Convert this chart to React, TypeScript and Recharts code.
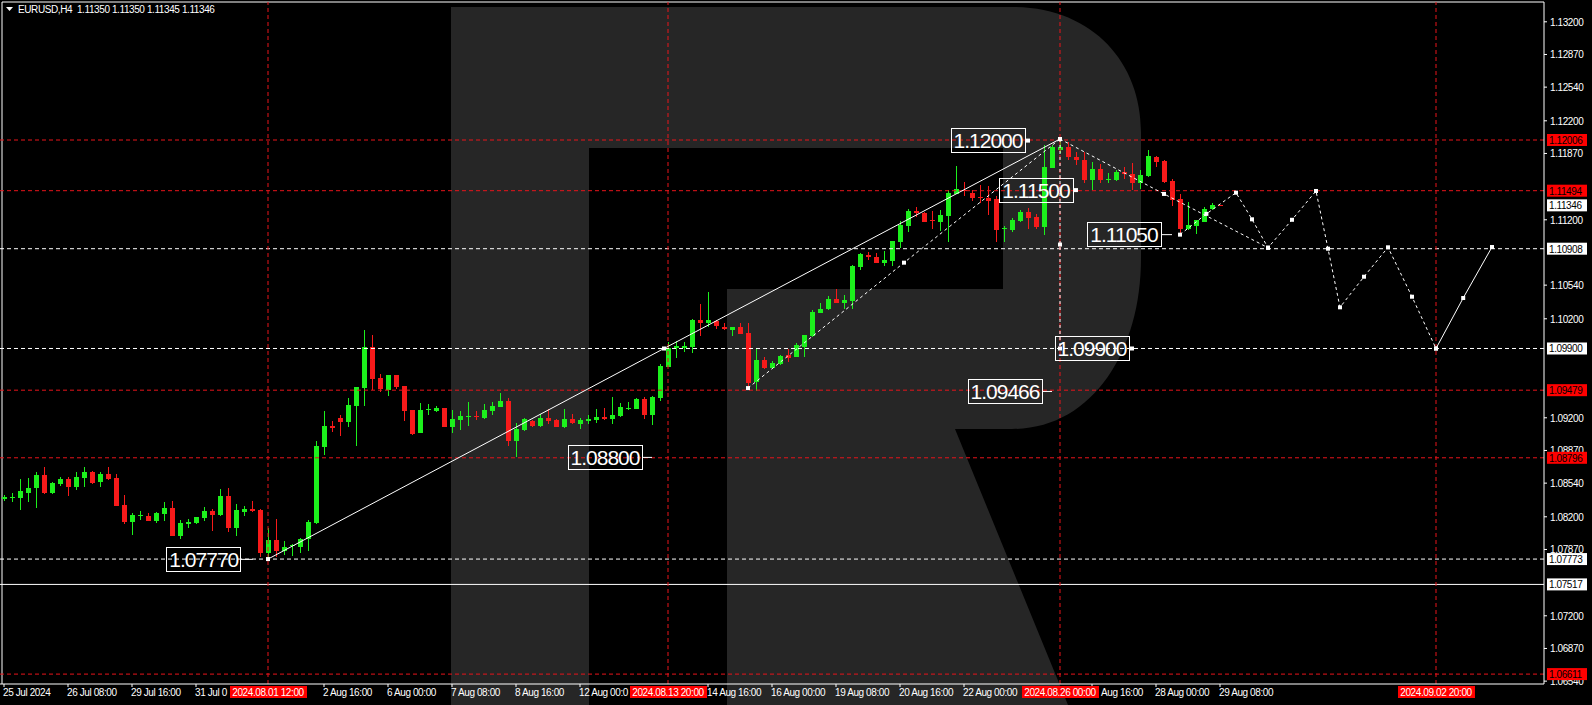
import { ComposedChart, Bar, XAxis, YAxis, Scatter, ReferenceLine, ReferenceDot } from 'recharts';

// EURUSD H4, 25 Jul 2024 .. 29 Aug 2024 08:00 (one entry per candle)
const OPEN = [
  1.0838, 1.0839, 1.0839, 1.0844, 1.08491, 1.08622, 1.0844, 1.08531, 1.08582, 1.08501,
  1.08595, 1.08652, 1.08554, 1.08632, 1.08592, 1.08319, 1.08147, 1.08205, 1.08208, 1.08157,
  1.08228, 1.08289, 1.08006, 1.08127, 1.08137, 1.08188, 1.08258, 1.08218, 1.0841, 1.08087,
  1.08248, 1.08279, 1.08269, 1.07834, 1.07965, 1.07854, 1.07905, 1.07895, 1.07975, 1.08137,
  1.08905, 1.09117, 1.09198, 1.09158, 1.09319, 1.09501, 1.09915, 1.09602, 1.09481, 1.09632,
  1.09521, 1.09279, 1.09046, 1.09282, 1.09271, 1.09299, 1.09107, 1.09178, 1.09215, 1.09218,
  1.09198, 1.09269, 1.09309, 1.0937, 1.08966, 1.09077, 1.09168, 1.09117, 1.09198, 1.09178,
  1.09107, 1.09188, 1.09137, 1.09168, 1.09178, 1.09208, 1.09188, 1.09218, 1.09296, 1.09289,
  1.0939, 1.09228, 1.094, 1.09713, 1.09905, 1.09905, 1.09918, 1.10188, 1.10157, 1.10178,
  1.10117, 1.10087, 1.10117, 1.10056, 1.09562, 1.09784, 1.097, 1.09743, 1.09831, 1.09811,
  1.09918, 1.10026, 1.10255, 1.10296, 1.104, 1.10362, 1.1038, 1.10726, 1.10841, 1.10827,
  1.10767, 1.10787, 1.10979, 1.11137, 1.11292, 1.11272, 1.11195, 1.11181, 1.11238, 1.1146,
  1.11496, 1.11474, 1.1143, 1.1142, 1.11407, 1.11107, 1.11097, 1.11188, 1.11279, 1.11225,
  1.1113, 1.11726, 1.11905, 1.11938, 1.11837, 1.11804, 1.11602, 1.1171, 1.11602, 1.11602,
  1.11686, 1.11663, 1.11575, 1.11642, 1.11837, 1.11794, 1.11595, 1.11413, 1.11104, 1.11137,
  1.11181, 1.11306, 1.1135,
];
const HIGH = [
  1.08421, 1.08441, 1.08582, 1.08595, 1.08652, 1.08703, 1.08554, 1.08602, 1.08602, 1.08652,
  1.08703, 1.08662, 1.08655, 1.08703, 1.08632, 1.0842, 1.08238, 1.08258, 1.08238, 1.08248,
  1.0835, 1.0836, 1.08167, 1.08177, 1.08198, 1.08299, 1.08279, 1.08481, 1.08491, 1.08329,
  1.08309, 1.0836, 1.08279, 1.08087, 1.08177, 1.07955, 1.07925, 1.07985, 1.08167, 1.08966,
  1.09269, 1.09168, 1.09228, 1.094, 1.09511, 1.10087, 1.10037, 1.09642, 1.09632, 1.09632,
  1.09521, 1.09279, 1.09349, 1.09339, 1.09319, 1.09299, 1.09279, 1.09269, 1.09359, 1.09269,
  1.09339, 1.09359, 1.0945, 1.094, 1.09147, 1.09198, 1.09178, 1.09238, 1.09289, 1.09188,
  1.09289, 1.09238, 1.09198, 1.09228, 1.09289, 1.09299, 1.0941, 1.09349, 1.09359, 1.094,
  1.0941, 1.0942, 1.09744, 1.09966, 1.09976, 1.09966, 1.10198, 1.10349, 1.10471, 1.10188,
  1.10157, 1.10117, 1.10157, 1.10157, 1.09905, 1.09814, 1.09774, 1.09834, 1.09892, 1.09955,
  1.10036, 1.10289, 1.10362, 1.1043, 1.10498, 1.1044, 1.10743, 1.10867, 1.10875, 1.10867,
  1.10885, 1.10986, 1.11188, 1.11309, 1.11326, 1.11279, 1.11292, 1.11299, 1.11501, 1.11743,
  1.11582, 1.11501, 1.11551, 1.11541, 1.1144, 1.11137, 1.11218, 1.11299, 1.11322, 1.11255,
  1.11955, 1.11955, 1.12016, 1.11986, 1.11888, 1.11888, 1.11787, 1.1176, 1.1167, 1.11703,
  1.11736, 1.11777, 1.11703, 1.11905, 1.11844, 1.11804, 1.11609, 1.1146, 1.11383, 1.11198,
  1.11332, 1.11366, 1.1135,
];
const LOW = [
  1.0836, 1.0835, 1.08269, 1.0835, 1.08289, 1.0843, 1.08433, 1.08514, 1.08413, 1.08474,
  1.08501, 1.08531, 1.08501, 1.08575, 1.08309, 1.08127, 1.08016, 1.08167, 1.08154, 1.08137,
  1.08157, 1.08006, 1.07976, 1.08087, 1.08127, 1.08157, 1.08056, 1.08208, 1.08046, 1.08006,
  1.08208, 1.08248, 1.07793, 1.07773, 1.07793, 1.07814, 1.07804, 1.07834, 1.07854, 1.08127,
  1.08824, 1.09057, 1.09016, 1.09107, 1.08915, 1.09319, 1.09481, 1.09461, 1.0942, 1.09491,
  1.09171, 1.09026, 1.09046, 1.09228, 1.09258, 1.09107, 1.09046, 1.09077, 1.09117, 1.09178,
  1.09188, 1.09228, 1.09309, 1.08915, 1.08804, 1.09067, 1.09107, 1.09107, 1.09137, 1.09107,
  1.09097, 1.09137, 1.09087, 1.09137, 1.09147, 1.09178, 1.09137, 1.09208, 1.09279, 1.09289,
  1.09188, 1.09127, 1.0937, 1.09713, 1.09804, 1.09864, 1.09854, 1.10026, 1.10117, 1.10097,
  1.10087, 1.10026, 1.10046, 1.09501, 1.09466, 1.09693, 1.09693, 1.09733, 1.09764, 1.09811,
  1.09811, 1.10019, 1.10255, 1.10289, 1.10359, 1.10302, 1.10296, 1.10693, 1.10794, 1.1076,
  1.10736, 1.10736, 1.10918, 1.11077, 1.11231, 1.11178, 1.11104, 1.11087, 1.10976, 1.1146,
  1.1144, 1.11393, 1.11367, 1.11248, 1.10976, 1.10979, 1.11077, 1.11178, 1.11104, 1.11104,
  1.11047, 1.11723, 1.11875, 1.11804, 1.11753, 1.11568, 1.11501, 1.11568, 1.11575, 1.11592,
  1.11609, 1.11501, 1.11511, 1.11635, 1.11736, 1.11568, 1.11339, 1.1105, 1.11097, 1.1106,
  1.11181, 1.11299, 1.11345,
];
const CLOSE = [
  1.084, 1.084, 1.08464, 1.08491, 1.08622, 1.08437, 1.08541, 1.08579, 1.08501, 1.08602,
  1.08652, 1.08541, 1.08632, 1.08582, 1.08309, 1.08147, 1.08218, 1.08215, 1.08157, 1.08238,
  1.08289, 1.08006, 1.08137, 1.08147, 1.08198, 1.08258, 1.08218, 1.0841, 1.08087, 1.08269,
  1.08279, 1.08258, 1.07834, 1.07965, 1.07854, 1.07895, 1.07915, 1.07975, 1.08147, 1.08915,
  1.09117, 1.09097, 1.09158, 1.09329, 1.09511, 1.09915, 1.09592, 1.09491, 1.09632, 1.09511,
  1.09269, 1.09036, 1.09279, 1.09289, 1.09302, 1.09107, 1.09188, 1.09218, 1.09218, 1.09211,
  1.09279, 1.09319, 1.0937, 1.08966, 1.09087, 1.09188, 1.09117, 1.09198, 1.09168, 1.09107,
  1.09188, 1.09147, 1.09178, 1.09188, 1.09208, 1.09188, 1.09228, 1.09309, 1.09299, 1.0939,
  1.09228, 1.0941, 1.09723, 1.09905, 1.09925, 1.09925, 1.10188, 1.10157, 1.10188, 1.10127,
  1.10097, 1.10117, 1.10046, 1.09551, 1.09784, 1.097, 1.09757, 1.09824, 1.09807, 1.09935,
  1.10036, 1.10272, 1.10302, 1.10397, 1.10359, 1.1039, 1.10736, 1.10854, 1.10821, 1.10767,
  1.10794, 1.10986, 1.11147, 1.11292, 1.11272, 1.11181, 1.11189, 1.11248, 1.11467, 1.11508,
  1.11486, 1.11423, 1.1142, 1.11393, 1.11097, 1.11117, 1.11198, 1.11282, 1.11215, 1.11124,
  1.11736, 1.11938, 1.11938, 1.11831, 1.11804, 1.11602, 1.1171, 1.11602, 1.11612, 1.11679,
  1.11663, 1.11575, 1.11653, 1.11844, 1.11787, 1.11579, 1.114, 1.11104, 1.11147, 1.11198,
  1.11309, 1.11349, 1.11346,
];

// candles + empty future slots on the time axis
const SLOTS = 193;

// time labels as they are visible (the red marker boxes cover parts of some)
const DATE_TICKS = [0, 8, 16, 24, 40, 48, 56, 64, 72, 88, 96, 104, 112, 120, 136, 144, 152];
const DATE_LABELS = [
  '25 Jul 2024', '26 Jul 08:00', '29 Jul 16:00', '31 Jul 0', '2 Aug 16:00', '6 Aug 00:00',
  '7 Aug 08:00', '8 Aug 16:00', '12 Aug 00:0', '14 Aug 16:00', '16 Aug 00:00', '19 Aug 08:00',
  '20 Aug 16:00', '22 Aug 00:00', 'Aug 16:00', '28 Aug 00:00', '29 Aug 08:00',
];
const DATE_SHIFT = [0, 0, 0, 0, 0, 0, 0, 0, 0, 0, 0, 0, 0, 0, 10, 0, 0];
const MARK_TIMES = [33, 83, 132, 179];
const MARK_LABELS = ['2024.08.01 12:00', '2024.08.13 20:00', '2024.08.26 00:00', '2024.09.02 20:00'];

const PRICE_TICKS = [
  1.132, 1.1287, 1.1254, 1.122, 1.1187, 1.112, 1.1054, 1.102,
  1.092, 1.0887, 1.0854, 1.082, 1.0787, 1.072, 1.0687, 1.0654,
];
const TAG_PRICES = [1.12006, 1.11494, 1.11346, 1.10908, 1.099, 1.09479, 1.08796, 1.07773, 1.07517, 1.06611];
const TAG_RED = [true, true, false, false, false, true, true, false, false, true];

const RED_LEVELS = [1.12006, 1.11494, 1.09479, 1.08796, 1.06611];
const WHITE_LEVELS = [1.10908, 1.099, 1.07773];
const SOLID_LEVEL = 1.07517;

// drawn objects: x in candle index, y in price
const TREND_X = [33, 82.5, 132];
const TREND_Y = [1.07773, 1.099, 1.12016];
const CHANNEL_X = [93, 112.5, 132];
const CHANNEL_Y = [1.095, 1.10767, 1.12016];
const DROP_X = [132, 145, 158];
const DROP_Y = [1.12016, 1.11461, 1.10918];
const STEM_X = [132, 132, 132];
const STEM_Y = [1.12016, 1.1095, 1.099];
const WAVE_X = [147, 150.3, 154, 156, 158, 161, 164, 165.5, 167, 170, 173, 176, 179];
const WAVE_Y = [1.1105, 1.1126, 1.11474, 1.11205, 1.10918, 1.112, 1.11491, 1.10908, 1.10316, 1.10625, 1.10922, 1.10423, 1.099];
const FINAL_X = [179, 182.4, 186];
const FINAL_Y = [1.099, 1.1041, 1.10925];

const NOTE_TEXT = ['1.07770', '1.08800', '1.09466', '1.09900', '1.12000', '1.11500', '1.11050'];
const NOTE_X = [31.1, 81, 131, 141, 128, 134, 146];
const NOTE_Y = [1.0777, 1.088, 1.09466, 1.099, 1.12, 1.115, 1.1105];
const NOTE_DASH = [12, 10, 10, 3, 3, 3, 11];

const BULL = '#1cf01c';
const BEAR = '#f71a1a';
const RED = '#e8141b';
const FONT = "'Liberation Sans', Arial, sans-serif";

const rows: any[] = OPEN.map((o, i) => ({ i, o, h: HIGH[i], l: LOW[i], c: CLOSE[i], range: [LOW[i], HIGH[i]] }));
for (let i = OPEN.length; i < SLOTS; i++) rows.push({ i, range: null });

const pts = (xs: number[], ys: number[]) => xs.map((x, k) => ({ x, y: ys[k] }));

function Candle(props: any) {
  const { x, y, width, height, payload } = props;
  if (!payload || payload.h == null) return null;
  const { o, h, l, c } = payload;
  const span = h - l;
  const px = (v: number) => (span > 0 ? y + ((h - v) / span) * height : y);
  const color = c >= o ? BULL : BEAR;
  const top = px(Math.max(o, c));
  let bot = px(Math.min(o, c));
  if (bot - top < 1) bot = top + 1;
  const left = Math.round(x + width / 2) - 3;
  return (
    <g shapeRendering="crispEdges">
      <rect x={left + 2} y={y} width={1} height={Math.max(height, 1)} fill={color} />
      <rect x={left} y={top} width={5} height={bot - top} fill={color} />
    </g>
  );
}

function Marker(props: any) {
  if (props.cx == null) return null;
  return <rect x={props.cx - 2} y={props.cy - 2} width={4} height={4} fill="#fff" />;
}

function PriceTick(props: any) {
  const { x, y, payload } = props;
  const v = payload.value;
  const k = TAG_PRICES.findIndex((p) => Math.abs(p - v) < 1e-7);
  if (k >= 0) {
    return (
      <g>
        <rect x={x + 3} y={y - 6} width={40} height={12} fill={TAG_RED[k] ? '#ff0000' : '#ffffff'} />
        <text x={x + 5} y={y + 4} fill="#000" fontSize={10} fontFamily={FONT} letterSpacing={-0.4}>
          {v.toFixed(5)}
        </text>
      </g>
    );
  }
  return (
    <g>
      <line x1={x} x2={x + 3} y1={y} y2={y} stroke="#fff" />
      <text x={x + 6} y={y + 4} fill="#fff" fontSize={10} fontFamily={FONT} letterSpacing={-0.4}>
        {v.toFixed(5)}
      </text>
    </g>
  );
}

function TimeTick(props: any) {
  const { x, y, payload } = props;
  const v = payload.value;
  const m = MARK_TIMES.indexOf(v);
  if (m >= 0) {
    return (
      <g>
        <rect x={x - 38} y={y + 2} width={77} height={12} fill="#ff0000" />
        <text x={x} y={y + 12} textAnchor="middle" fill="#fff" fontSize={10} fontFamily={FONT} letterSpacing={-0.4}>
          {MARK_LABELS[m]}
        </text>
      </g>
    );
  }
  const k = DATE_TICKS.indexOf(v);
  return (
    <g>
      <line x1={x} x2={x} y1={y} y2={y + 3} stroke="#fff" />
      <text x={x - 1 + DATE_SHIFT[k]} y={y + 12} fill="#fff" fontSize={10} fontFamily={FONT} letterSpacing={-0.4}>
        {DATE_LABELS[k]}
      </text>
    </g>
  );
}

function Note(k: number) {
  return (props: any) => {
    const { cx, cy } = props;
    if (cx == null) return null;
    const right = cx - NOTE_DASH[k];
    return (
      <g>
        <line x1={right} x2={cx} y1={cy} y2={cy} stroke="#fff" />
        {NOTE_DASH[k] <= 4 && <rect x={cx - 2} y={cy - 2} width={4} height={4} fill="#fff" />}
        <rect x={right - 74} y={cy - 12} width={74} height={24} fill="none" stroke="#fff" shapeRendering="crispEdges" />
        <text x={right - 37} y={cy + 7.5} textAnchor="middle" fill="#fff" fontSize={21} fontFamily={FONT} letterSpacing={-1}>
          {NOTE_TEXT[k]}
        </text>
      </g>
    );
  };
}

const dashed = { stroke: '#fff', strokeWidth: 1, strokeDasharray: '3 3' };
const solid = { stroke: '#fff', strokeWidth: 1 };

export default function App() {
  return (
    <div style={{ position: 'fixed', left: 0, top: 0, width: 1592, height: 705, background: '#000', overflow: 'hidden' }}>
      <svg width={1592} height={705} style={{ position: 'absolute', left: 0, top: 0 }}>
        <path
          d="M451,7 H1012 C1092,7 1141,62 1141,132 V258 C1141,352 1092,429 1012,429 H955 L1068,705 H727 V289 H1003 V148 H589 V705 H451 Z"
          fill="#262626"
        />
        <line x1={2} x2={2} y1={2} y2={684} stroke="#fff" />
        <line x1={2} x2={1544} y1={2} y2={2} stroke="#fff" />
      </svg>
      <div style={{ position: 'absolute', left: 0, top: 0 }}>
        <ComposedChart width={1592} height={705} data={rows} margin={{ top: 2, right: 0, bottom: 0, left: 0 }}>
          <XAxis xAxisId="cat" dataKey="i" type="category" hide />
          <XAxis
            dataKey="x"
            type="number"
            domain={[-0.5, SLOTS - 0.5]}
            allowDataOverflow
            ticks={[...DATE_TICKS, ...MARK_TIMES]}
            interval={0}
            height={21}
            tickLine={false}
            tickSize={0}
            tickMargin={0}
            axisLine={{ stroke: '#fff' }}
            tick={<TimeTick />}
          />
          <YAxis
            dataKey="y"
            orientation="right"
            type="number"
            width={48}
            domain={[1.06511, 1.134]}
            allowDataOverflow
            ticks={[...PRICE_TICKS, ...TAG_PRICES]}
            interval={0}
            tickLine={false}
            tickSize={0}
            tickMargin={0}
            axisLine={{ stroke: '#fff' }}
            tick={<PriceTick />}
          />
          {RED_LEVELS.map((v) => (
            <ReferenceLine key={'r' + v} y={v} stroke={RED} strokeDasharray="4 3" />
          ))}
          {WHITE_LEVELS.map((v) => (
            <ReferenceLine key={'w' + v} y={v} stroke="#fff" strokeDasharray="4 3" />
          ))}
          <ReferenceLine y={SOLID_LEVEL} stroke="#fff" />
          {MARK_TIMES.map((t) => (
            <ReferenceLine key={'t' + t} x={t} stroke={RED} strokeDasharray="4 3" />
          ))}
          <Bar xAxisId="cat" dataKey="range" barSize={5} isAnimationActive={false} shape={<Candle />} />
          <Scatter data={pts(TREND_X, TREND_Y)} line={solid} shape={<Marker />} isAnimationActive={false} />
          <Scatter data={pts(CHANNEL_X, CHANNEL_Y)} line={dashed} shape={<Marker />} isAnimationActive={false} />
          <Scatter data={pts(DROP_X, DROP_Y)} line={dashed} shape={<Marker />} isAnimationActive={false} />
          <Scatter data={pts(STEM_X, STEM_Y)} line={dashed} shape={<Marker />} isAnimationActive={false} />
          <Scatter data={pts(WAVE_X, WAVE_Y)} line={dashed} shape={<Marker />} isAnimationActive={false} />
          <Scatter data={pts(FINAL_X, FINAL_Y)} line={solid} shape={<Marker />} isAnimationActive={false} />
          {NOTE_TEXT.map((t, k) => (
            <ReferenceDot key={t} x={NOTE_X[k]} y={NOTE_Y[k]} r={0} shape={Note(k)} />
          ))}
        </ComposedChart>
      </div>
      <div
        style={{
          position: 'absolute',
          left: 6,
          top: 4,
          color: '#fff',
          fontFamily: FONT,
          fontSize: 10,
          letterSpacing: -0.4,
          whiteSpace: 'pre',
          lineHeight: '12px',
        }}
      >
        <svg width={8} height={6} style={{ marginRight: 4, verticalAlign: 'middle' }}>
          <polygon points="0,0 7,0 3.5,4" fill="#fff" />
        </svg>
        EURUSD,H4  1.11350 1.11350 1.11345 1.11346
      </div>
    </div>
  );
}
